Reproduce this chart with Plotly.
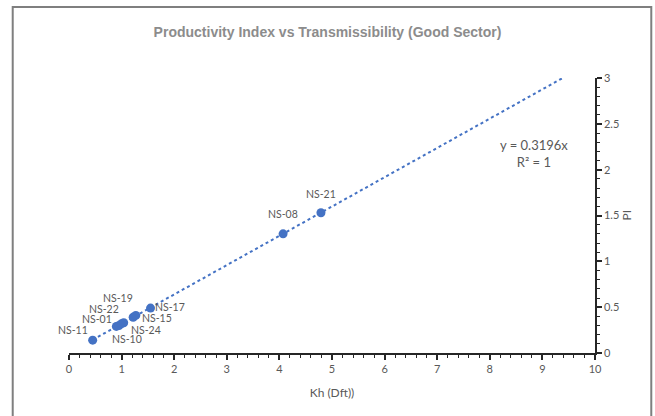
import plotly.graph_objects as go

# well data
wells = ["NS-11", "NS-10", "NS-01", "NS-22", "NS-24", "NS-19", "NS-15", "NS-17", "NS-08", "NS-21"]
kh = [0.45, 0.90, 0.95, 1.00, 1.04, 1.22, 1.27, 1.55, 4.07, 4.79]
pi = [0.14, 0.29, 0.30, 0.32, 0.33, 0.39, 0.41, 0.49, 1.30, 1.53]

slope = 0.3196
r2 = 1
x_ticks = list(range(0, 11))
y_ticks = [0, 0.5, 1, 1.5, 2, 2.5, 3]

# label offsets in px (xshift, yshift)
label_shift = {
    "NS-11": (-20, 10), "NS-10": (11, -13), "NS-01": (-22, 7), "NS-22": (-18, 15),
    "NS-24": (22, -7), "NS-19": (-15, 19), "NS-15": (21, -3), "NS-17": (19, 1),
    "NS-08": (0, 20), "NS-21": (0, 19),
}

FONT = "Liberation Sans Narrow, Lato, sans-serif"
GREY = "#595959"
BLUE = "#4472C4"

fig = go.Figure()

# linear trendline through origin, drawn from first well until the top of the axis
x_end = min(3 / slope, 10)
x_line = [min(kh), x_end]
fig.add_trace(go.Scatter(
    x=x_line, y=[slope * v for v in x_line], mode="lines",
    line=dict(color=BLUE, width=2, dash="dot"), hoverinfo="skip", showlegend=False,
))
fig.add_trace(go.Scatter(
    x=kh, y=pi, mode="markers", marker=dict(color=BLUE, size=9),
    text=wells, showlegend=False,
))

for w, x, y in zip(wells, kh, pi):
    dx, dy = label_shift[w]
    fig.add_annotation(x=x, y=y, text=w, showarrow=False, xshift=dx, yshift=dy,
                       font=dict(family=FONT, size=10.5, color=GREY))

fig.add_annotation(x=8.84, y=2.18, text=f"y = {slope}x<br>R² = {r2}", showarrow=False,
                   align="center", font=dict(family=FONT, size=13, color=GREY))

# y axis title placed by hand, just right of the tick labels
fig.add_annotation(xref="paper", yref="paper", x=1.059, y=0.5, xanchor="center", yanchor="middle",
                   text="PI", textangle=-90, showarrow=False,
                   font=dict(family=FONT, size=12, color=GREY))

# outer chart border
fig.add_shape(type="rect", xref="paper", yref="paper", x0=-0.107, x1=1.107, y0=-0.24, y1=1.258,
              line=dict(color="#7f7f7f", width=2), fillcolor="rgba(0,0,0,0)", layer="below")

axis_common = dict(
    showgrid=False, zeroline=False, showline=True, linecolor="#262626", linewidth=1.5,
    ticks="outside", ticklen=5, tickwidth=1.5, tickcolor="#262626",
    tickfont=dict(family=FONT, size=11, color=GREY),
    minor=dict(ticks="outside", ticklen=3, tickwidth=1, tickcolor="#262626", showgrid=False),
)

fig.update_layout(
    width=655, height=416,
    margin=dict(l=69, r=60, t=78, b=63),
    paper_bgcolor="white", plot_bgcolor="white",
    title=dict(text="<b>Productivity Index vs Transmissibility (Good Sector)</b>",
               x=0.5, xanchor="center", y=0.922, yanchor="middle",
               font=dict(family="Liberation Sans, Arial, sans-serif", size=14, color="#8c8c8c")),
    xaxis=dict(range=[0, 10], tickvals=x_ticks, title=dict(text="Kh (Dft))", standoff=15,
               font=dict(family=FONT, size=12, color=GREY)),
               **{**axis_common, "minor": dict(axis_common["minor"], dtick=0.2)}),
    yaxis=dict(range=[0, 3], tickvals=y_ticks, side="right",
               **{**axis_common, "minor": dict(axis_common["minor"], dtick=0.1)}),
)

# page body has a default margin and scrollbars; drop them so the figure fills the window
fig.write_html(
    "out.html",
    config={"displayModeBar": False},
    post_script="document.body.style.margin='0';document.body.style.overflow='hidden';"
                "document.documentElement.style.overflow='hidden';",
)
